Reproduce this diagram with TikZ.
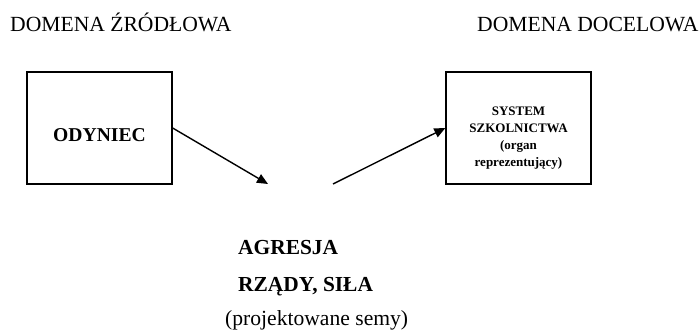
\documentclass[tikz,border=0pt]{standalone}
\usepackage{fontspec}
\setmainfont{Liberation Serif}
\usetikzlibrary{arrows.meta}
\tikzset{
  box/.style={draw, line width=1.3pt, minimum width=145pt, minimum height=112pt, inner sep=0pt},
  title/.style={font=\fontsize{21.6}{25}\selectfont, anchor=base west, inner sep=0pt},
  sem/.style={font=\fontsize{21.4}{25}\selectfont\bfseries, anchor=base west, inner sep=0pt},
  arr/.style={line width=1.4pt, -{Triangle[length=11pt,width=9.5pt]}}
}
\begin{document}
\begin{tikzpicture}[x=1pt,y=-1pt]
\useasboundingbox (0,0) rectangle (700,331);
\node[title] (srcdom) at (10,32) {DOMENA ŹRÓDŁOWA};
\node[title] (tgtdom) at (477,32) {DOMENA DOCELOWA};
\node[box] (src) at (99.5,128) {};
\node[box] (tgt) at (518.5,128) {};
\node[font=\fontsize{19.6}{22}\selectfont\bfseries, inner sep=0pt] (srclabel) at (99.5,135.5) {ODYNIEC};
\node[font=\fontsize{13}{16.8}\selectfont\bfseries, align=center, inner sep=0pt] (tgtlabel) at (518.5,138)
  {SYSTEM\\SZKOLNICTWA\\(organ\\reprezentujący)};
\coordinate (mid1) at (268,184);
\coordinate (mid2) at (333,184);
\draw[arr] (src.east) -- (mid1);
\draw[arr] (mid2) -- (tgt.west);
\node[sem] (s1) at (238,254) {AGRESJA};
\node[sem] (s2) at (238,291) {RZĄDY, SIŁA};
\node[title] (s3) at (225,325) {(projektowane semy)};
\end{tikzpicture}
\end{document}
